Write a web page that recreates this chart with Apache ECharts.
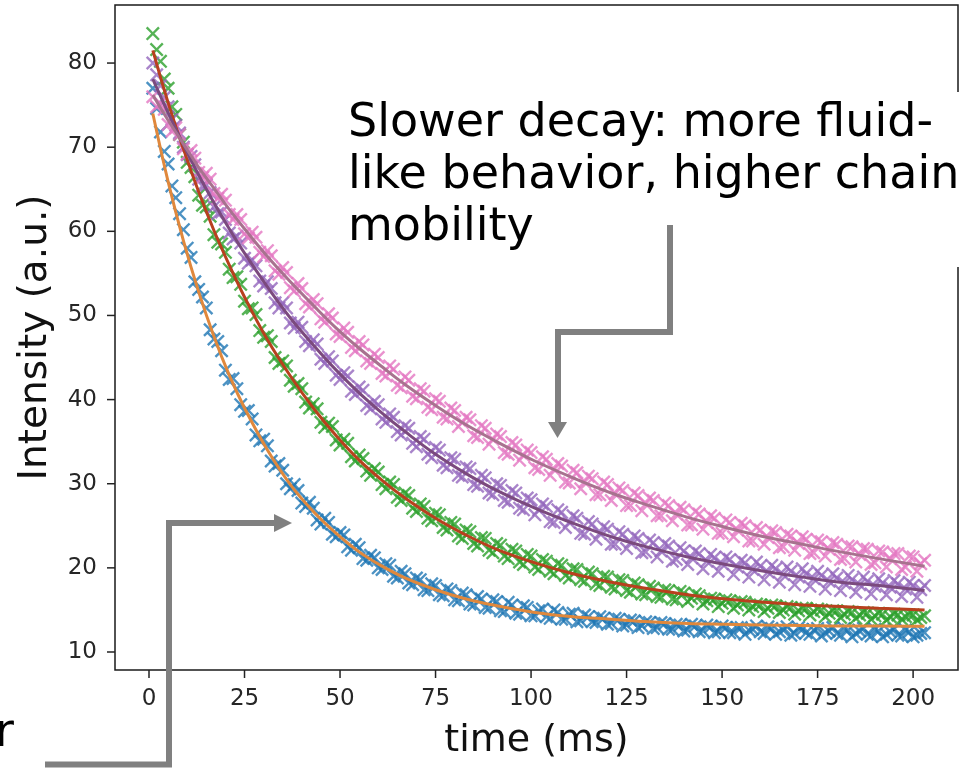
<!DOCTYPE html>
<html>
<head>
<meta charset="utf-8">
<script src="https://cdn.jsdelivr.net/npm/echarts@6/dist/echarts.min.js"></script>
<style>
html,body{margin:0;padding:0;background:#fff;}
#chart{width:962px;height:771px;}
</style>
</head>
<body>
<div id="chart"></div>
<script>
// sample times (ms)
const times = [
  1,2,3,4,5,6,7,8,9,10,11,12,13,14,15,16,17,18,19,20,
  21,22,23,24,25,26,27,28,29,30,31,32,33,34,35,36,37,38,39,40,
  41,42,43,44,45,46,47,48,49,50,51,52,53,54,55,56,57,58,59,60,
  61,62,63,64,65,66,67,68,69,70,71,72,73,74,75,76,77,78,79,80,
  81,82,83,84,85,86,87,88,89,90,91,92,93,94,95,96,97,98,99,100,
  101,102,103,104,105,106,107,108,109,110,111,112,113,114,115,116,117,118,119,120,
  121,122,123,124,125,126,127,128,129,130,131,132,133,134,135,136,137,138,139,140,
  141,142,143,144,145,146,147,148,149,150,151,152,153,154,155,156,157,158,159,160,
  161,162,163,164,165,166,167,168,169,170,171,172,173,174,175,176,177,178,179,180,
  181,182,183,184,185,186,187,188,189,190,191,192,193,194,195,196,197,198,199,200,
  201,202,203
];
// measured intensities
const blueData = [
  77.0,74.6,71.8,69.5,68.0,65.4,64.0,62.1,60.2,58.0,
  56.9,54.0,53.1,52.2,50.9,48.3,47.2,46.9,45.8,43.5,
  42.4,42.5,41.3,39.4,38.6,38.7,37.7,35.8,35.1,35.3,
  34.5,32.7,32.1,32.4,31.6,30.0,29.4,29.9,29.2,27.7,
  27.3,27.8,27.1,25.7,25.2,25.9,25.4,24.0,23.7,24.2,
  23.9,22.5,22.1,22.8,22.4,21.1,20.9,21.5,21.2,20.0,
  19.8,20.5,20.3,19.0,18.8,19.6,19.3,18.2,18.0,18.8,
  18.6,17.4,17.3,18.1,17.9,16.8,16.7,17.5,17.3,16.2,
  16.1,17.0,16.8,15.7,15.6,16.6,16.3,15.3,15.2,16.2,
  16.0,14.9,14.8,15.9,15.6,14.6,14.5,15.5,15.3,14.3,
  14.3,14.9,15.1,14.2,14.0,15.0,14.7,13.9,13.9,14.5,
  14.6,13.6,13.7,14.4,14.2,13.6,13.5,14.2,14.0,13.3,
  13.4,14.0,13.9,13.1,13.2,13.8,13.7,12.9,13.1,13.6,
  13.5,12.8,12.9,13.5,13.4,12.7,12.7,13.3,13.2,12.5,
  12.6,13.3,13.1,12.4,12.5,13.2,13.0,12.3,12.4,13.1,
  12.9,12.3,12.3,12.9,12.9,12.1,12.6,12.7,13.1,12.4,
  12.2,13.0,12.8,12.1,12.4,12.6,13.0,12.0,12.2,12.9,
  12.7,12.3,12.1,12.6,12.8,11.9,12.3,12.5,12.9,12.2,
  12.0,12.8,12.6,11.8,12.2,12.5,12.8,12.1,11.9,12.7,
  12.5,11.8,12.1,12.4,12.7,12.0,11.9,12.6,12.4,11.8,
  12.0,12.2,12.3
];
const greenData = [
  83.5,81.6,80.2,78.1,77.0,74.8,73.9,71.5,70.6,68.2,
  67.6,66.5,64.3,63.1,62.9,61.8,59.6,58.7,58.5,57.5,
  55.5,54.5,54.6,53.7,51.7,50.8,50.9,50.1,48.2,47.4,
  47.6,46.9,45.0,44.3,44.6,44.0,42.3,41.6,41.9,41.3,
  39.7,39.0,39.5,38.9,37.3,36.7,37.2,36.8,35.2,34.6,
  35.3,34.8,33.2,32.7,33.4,33.0,31.5,31.0,31.8,31.4,
  29.9,29.4,30.2,29.9,28.4,28.0,28.9,28.6,27.1,26.7,
  27.6,27.3,25.9,25.6,26.5,26.3,24.8,24.5,25.4,25.2,
  23.8,23.5,24.5,24.3,22.9,22.6,23.6,23.5,22.1,21.8,
  22.9,22.7,21.4,21.1,22.2,22.0,20.7,20.4,21.6,21.4,
  20.1,19.8,21.0,20.8,19.6,19.3,20.5,20.3,19.1,18.8,
  19.9,19.8,18.6,18.4,19.5,19.3,18.1,17.9,19.0,18.9,
  17.7,17.5,18.6,18.5,17.3,17.1,18.2,18.0,16.9,16.8,
  17.8,17.6,16.6,16.5,17.4,17.3,16.3,16.2,17.2,17.0,
  16.0,16.4,16.9,16.7,15.7,16.1,16.4,16.3,15.4,15.8,
  16.2,16.1,15.2,15.6,16.0,15.9,15.0,15.4,15.7,15.6,
  14.8,15.2,15.6,15.5,14.7,15.0,15.4,15.3,14.5,14.9,
  15.2,15.2,14.4,14.8,15.1,15.0,14.2,14.6,14.9,14.9,
  14.1,14.5,14.8,14.7,14.0,14.4,14.7,14.6,13.9,14.3,
  14.6,14.5,13.8,14.2,14.5,14.4,13.9,14.2,14.4,14.4,
  13.8,14.1,14.3
];
const purpleData = [
  80.0,78.6,77.3,75.9,74.8,73.3,72.6,71.7,70.0,69.1,
  68.9,67.9,66.2,65.4,65.5,64.6,62.9,62.1,62.3,61.4,
  59.8,59.1,59.4,58.6,56.8,56.2,56.6,55.9,54.1,53.5,
  54.0,53.2,51.5,50.9,51.5,50.9,49.1,48.5,49.2,48.6,
  46.9,46.4,47.1,46.6,44.8,44.3,45.1,44.6,42.9,42.4,
  43.2,42.8,41.0,40.6,41.5,41.1,39.3,38.9,39.8,39.4,
  37.7,37.3,38.3,37.9,36.2,35.8,36.9,36.6,34.8,34.4,
  35.6,35.3,33.5,33.1,34.3,34.0,32.2,31.9,33.1,32.9,
  31.0,30.8,32.0,31.8,29.9,29.7,31.0,30.7,28.9,28.7,
  30.0,29.8,28.0,27.8,29.2,28.9,27.1,26.9,28.3,28.1,
  26.3,26.9,27.6,27.3,25.5,25.4,26.9,26.6,24.8,25.4,
  26.2,25.9,24.1,24.0,25.5,25.2,23.4,24.1,24.9,24.6,
  22.8,22.8,24.3,24.0,22.3,23.0,23.8,23.5,21.8,21.9,
  23.3,23.0,21.3,22.0,22.9,22.6,20.8,21.0,22.4,22.0,
  20.4,21.2,22.0,21.7,19.9,20.8,21.6,21.2,19.6,20.5,
  21.3,21.0,19.2,20.1,20.9,20.6,18.9,19.8,20.7,20.2,
  18.6,19.5,20.3,19.9,18.3,19.2,20.1,19.6,18.0,18.9,
  19.9,19.3,17.8,18.7,19.6,19.1,17.5,18.4,19.3,18.8,
  17.3,18.2,19.1,18.6,17.1,18.0,18.9,18.4,16.9,17.8,
  18.7,18.2,16.8,17.7,18.5,18.1,16.6,17.5,18.3,17.9,
  16.5,17.4,17.9
];
const pinkData = [
  76.0,74.8,75.2,74.5,72.7,71.9,72.3,71.5,69.8,69.2,
  69.6,68.7,67.0,66.4,66.9,66.2,64.5,63.9,64.4,63.7,
  62.0,61.4,62.0,61.4,59.7,59.2,59.9,59.3,57.5,57.0,
  57.7,57.1,55.3,54.9,55.7,55.1,53.3,52.9,53.8,53.2,
  51.4,51.0,51.9,51.4,49.6,49.2,50.2,49.7,47.8,47.5,
  48.5,48.0,46.2,45.8,46.9,46.5,44.6,44.3,45.4,45.0,
  43.1,42.8,44.0,43.6,41.7,41.4,42.7,42.3,40.4,40.1,
  41.3,41.0,39.1,38.8,40.1,39.8,37.9,37.7,39.0,38.7,
  36.8,37.3,37.9,37.6,35.7,35.5,36.9,36.6,34.7,35.3,
  35.9,35.6,33.7,33.5,34.9,34.6,32.8,33.4,34.0,33.7,
  31.9,31.7,33.2,32.9,31.0,31.7,32.4,32.1,30.2,30.1,
  31.6,31.3,29.4,30.2,30.9,30.6,28.7,28.7,30.2,29.9,
  28.0,28.8,29.5,29.2,27.4,27.4,28.9,28.6,26.8,27.6,
  28.3,28.0,26.2,26.2,27.7,27.4,25.6,26.4,27.2,26.9,
  25.1,25.1,26.7,26.4,24.6,25.4,26.2,25.9,24.1,24.1,
  25.7,25.4,23.7,24.5,25.3,25.0,23.2,23.2,24.8,24.5,
  22.8,23.6,24.4,24.2,22.4,22.5,24.0,23.8,22.1,22.9,
  23.7,23.4,21.7,21.8,23.3,23.1,21.4,22.2,23.0,22.8,
  21.0,21.1,22.6,22.5,20.7,21.6,22.3,22.2,20.4,20.6,
  22.0,21.9,20.1,21.1,21.7,21.7,19.8,20.1,21.4,21.3,
  19.6,20.5,20.9
];
// fitted curves, read at these times
const fitTimes = [1,5,9,13,17,21,25,31,37,43,49,55,61,67,75,83,91,101,111,121,131,141,151,161,171,181,191,203];
const orangeFit = [74.0,65.9,58.9,52.8,47.5,42.9,39.0,34.0,29.9,26.7,24.1,21.9,20.2,18.8,17.4,16.3,15.5,14.7,14.2,13.9,13.6,13.4,13.3,13.2,13.15,13.1,13.1,13.05];
const redFit = [81.5,75.3,69.8,64.7,60.1,56.0,52.2,47.1,42.8,39.0,35.7,32.8,30.4,28.3,25.9,23.9,22.2,20.6,19.3,18.3,17.5,16.8,16.3,15.9,15.6,15.4,15.2,15.0];
const brownFit = [78.1,74.1,70.3,66.7,63.4,60.3,57.4,53.4,49.7,46.5,43.5,40.8,38.4,36.2,33.5,31.2,29.2,27.1,25.3,23.7,22.4,21.3,20.4,19.6,18.9,18.3,17.9,17.3];
const grayFit = [76.2,73.2,70.4,67.6,65.1,62.6,60.3,57.0,54.0,51.2,48.5,46.1,43.9,41.8,39.3,37.0,35.0,32.7,30.7,28.9,27.4,26.0,24.8,23.7,22.8,21.9,21.1,20.2];
// ticks
const xTicks = [0,25,50,75,100,125,150,175,200];
const yTicks = [10,20,30,40,50,60,70,80];

const X_MIN = -8.9, X_MAX = 211.75, Y_MIN = 7.86, Y_MAX = 86.9;
const pair = (xs, ys) => xs.map((x, i) => [x, ys[i]]);
const X_SYMBOL = 'path://M0,1.2L1.2,0L5,3.8L8.8,0L10,1.2L6.2,5L10,8.8L8.8,10L5,6.2L1.2,10L0,8.8L3.8,5Z';

function scatter(name, data, color) {
  return {
    name, type: 'scatter', data: pair(times, data),
    symbol: X_SYMBOL, symbolSize: 14,
    itemStyle: { color, opacity: 0.8 },
    emphasis: { disabled: true }, silent: true
  };
}
function fit(name, data, color) {
  return {
    name, type: 'line', data: pair(fitTimes, data),
    smooth: 0.4, showSymbol: false, symbol: 'none',
    lineStyle: { color, width: 3 },
    emphasis: { disabled: true }, silent: true
  };
}

const annotations = [
  {
    type: 'text', x: 344, y: 92, z: 100,
    style: {
      text: 'Slower decay: more fluid-\nlike behavior, higher chain\nmobility',
      font: '46px "DejaVu Sans"', fill: '#000', lineHeight: 52,
      backgroundColor: '#fff', padding: [6, 40, 13, 4]
    }
  },
  {
    type: 'text', x: 14, y: 708, z: 100,
    style: { text: 'r', font: '46px "DejaVu Sans"', fill: '#000', lineHeight: 52, align: 'right' }
  },
  {
    type: 'polyline', z: 100,
    shape: { points: [[670, 225], [670, 332], [558, 332], [558, 424]] },
    style: { stroke: '#808080', lineWidth: 6, fill: null }
  },
  {
    type: 'polygon', z: 100,
    shape: { points: [[548, 422], [567, 422], [557.5, 438]] },
    style: { fill: '#808080' }
  },
  {
    type: 'polyline', z: 100,
    shape: { points: [[45, 764.5], [169, 764.5], [169, 523], [277, 523]] },
    style: { stroke: '#808080', lineWidth: 6, fill: null }
  },
  {
    type: 'polygon', z: 100,
    shape: { points: [[274, 514], [274, 532], [292, 523]] },
    style: { fill: '#808080' }
  }
];

const chart = echarts.init(document.getElementById('chart'), null, { renderer: 'canvas' });
const FONT = 'DejaVu Sans';
chart.setOption({
  animation: false,
  backgroundColor: '#ffffff',
  grid: {
    left: 115, right: 4, top: 5, bottom: 101,
    show: true, borderColor: '#1a1a1a', borderWidth: 1.5,
    backgroundColor: 'transparent',
    containLabel: false, outerBoundsMode: 'none'
  },
  xAxis: {
    type: 'value', min: X_MIN, max: X_MAX,
    axisLine: { show: false, onZero: false },
    splitLine: { show: false },
    axisTick: { show: false },
    axisLabel: { customValues: xTicks, fontSize: 23, fontFamily: FONT, color: '#262626', margin: 18 },
    name: 'time (ms)', nameLocation: 'middle', nameGap: 52,
    nameTextStyle: { fontSize: 38, fontFamily: FONT, color: '#111' }
  },
  yAxis: {
    type: 'value', min: Y_MIN, max: Y_MAX,
    axisLine: { show: false, onZero: false },
    splitLine: { show: false },
    axisTick: { show: false },
    axisLabel: { customValues: yTicks, fontSize: 23, fontFamily: FONT, color: '#262626', margin: 18 },
    name: 'Intensity (a.u.)', nameLocation: 'middle', nameGap: 60, nameRotate: 90,
    nameTextStyle: { fontSize: 39, fontFamily: FONT, color: '#111' }
  },
  series: [
    scatter('blue', blueData, '#1f77b4'),
    fit('blue fit', orangeFit, '#e0883c'),
    scatter('green', greenData, '#2ca02c'),
    fit('green fit', redFit, '#b8401e'),
    scatter('purple', purpleData, '#9467bd'),
    fit('purple fit', brownFit, '#7b4a7e'),
    scatter('pink', pinkData, '#e377c2'),
    fit('pink fit', grayFit, '#a8728f')
  ]
});

// tick marks, positioned through the chart's own axis scales
const tickMarks = [];
xTicks.forEach(v => {
  const p = chart.convertToPixel({ gridIndex: 0 }, [v, Y_MIN]);
  tickMarks.push({
    type: 'line', z: 90,
    shape: { x1: p[0], y1: p[1], x2: p[0], y2: p[1] + 8 },
    style: { stroke: '#222', lineWidth: 1.5 }
  });
});
yTicks.forEach(v => {
  const p = chart.convertToPixel({ gridIndex: 0 }, [X_MIN, v]);
  tickMarks.push({
    type: 'line', z: 90,
    shape: { x1: p[0] - 8, y1: p[1], x2: p[0], y2: p[1] },
    style: { stroke: '#222', lineWidth: 1.5 }
  });
});
chart.setOption({ graphic: annotations.concat(tickMarks) });
</script>
</body>
</html>
